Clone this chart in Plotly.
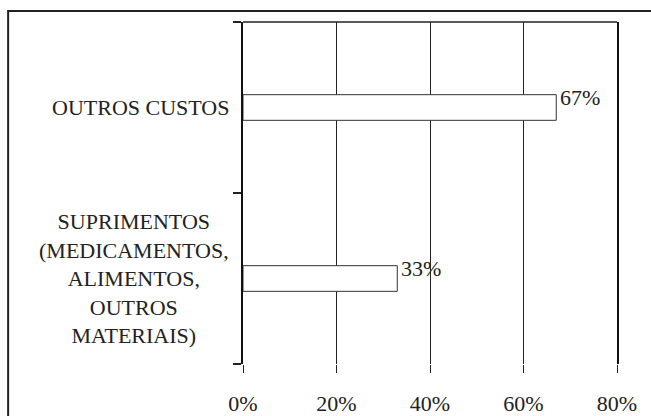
import plotly.graph_objects as go

categories = ["SUPRIMENTOS", "OUTROS CUSTOS"]
category_labels = ["SUPRIMENTOS<br>(MEDICAMENTOS,<br>ALIMENTOS,<br>OUTROS<br>MATERIAIS)", "OUTROS CUSTOS"]
values = [33, 67]
value_labels = ["33%", "67%"]
x_ticks = [0, 20, 40, 60, 80]
x_tick_labels = ["0%", "20%", "40%", "60%", "80%"]

FONT = dict(family="Liberation Serif, Times New Roman, serif", size=22, color="#222")

fig = go.Figure()
fig.add_trace(go.Bar(
    x=values, y=categories, orientation="h",
    width=0.15,
    marker=dict(color="white", line=dict(color="#333", width=1)),
    hoverinfo="skip",
))

annotations = []
for cat, lab_txt, v, lab in zip(categories, category_labels, values, value_labels):
    annotations.append(dict(x=0, xref="x domain", y=cat, yref="y", text=lab_txt,
                            xanchor="right", yanchor="middle", align="center",
                            xshift=-12, showarrow=False, font=FONT))
    annotations.append(dict(x=v, xref="x", y=cat, yref="y", text=lab,
                            xanchor="left", yanchor="middle", xshift=2, yshift=10,
                            showarrow=False, font=FONT))

fig.update_layout(
    width=651, height=416,
    margin=dict(l=243, r=34, t=22, b=52),
    paper_bgcolor="white", plot_bgcolor="white",
    showlegend=False,
    font=FONT,
    annotations=annotations,
    shapes=[
        dict(type="rect", xref="paper", yref="paper",
             x0=-0.628, x1=1.2, y0=-0.4, y1=1.032,
             line=dict(color="#222", width=2), layer="below"),
        dict(type="line", xref="x domain", yref="y domain",
             x0=0, x1=1, y0=1, y1=1, line=dict(color="#222", width=1.5)),
    ],
)
fig.update_xaxes(
    range=[0, 80], tickvals=x_ticks, ticktext=x_tick_labels,
    showgrid=True, gridcolor="#222", gridwidth=1,
    zeroline=False, showline=False, automargin=False,
    ticks="outside", ticklen=8, tickcolor="#222", tickwidth=1,
    ticklabelstandoff=12, tickfont=FONT,
)
fig.update_yaxes(
    type="category", categoryorder="array", categoryarray=categories,
    range=[-0.5, 1.5], automargin=False,
    showticklabels=False,
    tickson="boundaries", ticks="outside", ticklen=8, tickcolor="#222", tickwidth=2,
    showgrid=False, zeroline=False,
    showline=True, linecolor="#111", linewidth=2, mirror=True,
)

fig.write_html("out.html")
